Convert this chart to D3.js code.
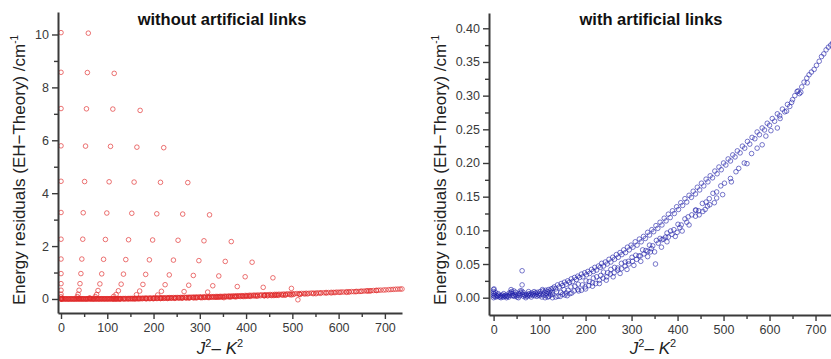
<!DOCTYPE html>
<html>
<head>
<meta charset="utf-8">
<script src="https://cdn.jsdelivr.net/npm/d3@7"></script>
<style>
  body { margin: 0; background: #fff; }
  svg { display: block; font-family: "Liberation Sans", Arial, sans-serif; }
</style>
</head>
<body>
<script>
// tick values
const xTicks = [0, 100, 200, 300, 400, 500, 600, 700];
const xMinor = [50, 150, 250, 350, 450, 550, 650, 750];
const leftYTicks = [0, 2, 4, 6, 8, 10];
const leftYMinor = [1, 3, 5, 7, 9];
const rightYTicks = [0, 0.05, 0.10, 0.15, 0.20, 0.25, 0.30, 0.35, 0.40];
const rightYMinor = [0.025, 0.075, 0.125, 0.175, 0.225, 0.275, 0.325, 0.375];

// "without links": K ladders sitting above the main band, [J2-K2, residual]
const ladderRows = [
  [[0, 10.07], [59, 10.05]],
  [[0, 8.57], [57, 8.56], [115, 8.53]],
  [[0, 7.20], [55, 7.19], [112, 7.18], [171, 7.13]],
  [[0, 5.79], [53, 5.78], [107, 5.77], [164, 5.74], [222, 5.72]],
  [[0, 4.45], [51, 4.44], [104, 4.43], [158, 4.42], [215, 4.41], [274, 4.40]],
  [[0, 3.27], [48, 3.26], [99, 3.25], [153, 3.24], [207, 3.22], [263, 3.21], [321, 3.18]],
  [[0, 2.26], [47, 2.26], [96, 2.25], [146, 2.24], [198, 2.23], [253, 2.22], [309, 2.20], [368, 2.17]],
  [[0, 1.51], [45, 1.51], [92, 1.50], [140, 1.49], [191, 1.48], [243, 1.47], [298, 1.45], [355, 1.42], [413, 1.39]],
  [[0, 0.96], [43, 0.96], [88, 0.95], [135, 0.94], [183, 0.93], [234, 0.91], [286, 0.89], [341, 0.87], [398, 0.84], [458, 0.80]],
  [[0, 0.58], [41, 0.58], [84, 0.57], [130, 0.56], [177, 0.55], [225, 0.54], [276, 0.52], [328, 0.50], [381, 0.47], [437, 0.44], [498, 0.40]],
  [[0, 0.33], [39, 0.33], [80, 0.32], [124, 0.31], [170, 0.30], [217, 0.29], [266, 0.28], [317, 0.26]],
  [[0, 0.18], [37, 0.18], [77, 0.17], [119, 0.17], [163, 0.16], [209, 0.15]],
  [[0, 0.08], [35, 0.09], [74, 0.09], [114, 0.10], [512, -0.03]]
];

// "with links" (also the main band of the left panel)
const nearZero = [
  [0, 0.000], [0, 0.003], [0, 0.006], [0, 0.009], [0, 0.012], [1, 0.013], [2, 0.002], [3, 0.005],
  [4, 0.008], [5, 0.001], [7, 0.003], [9, 0.002], [10, 0.006], [11, 0.004], [13, 0.001], [15, 0.003],
  [16, 0.000], [17, 0.002], [19, 0.004], [21, 0.001], [22, 0.006], [23, 0.003], [25, 0.002], [27, 0.004],
  [28, 0.000], [29, 0.002], [31, 0.003], [33, 0.001], [34, 0.007], [35, 0.004], [37, 0.007], [38, 0.012],
  [39, 0.009], [40, 0.003], [41, 0.006], [43, 0.003], [44, 0.010], [45, 0.002], [47, 0.005], [48, 0.008],
  [49, 0.003], [51, 0.001], [53, 0.004], [54, 0.000], [55, 0.006], [57, 0.003], [58, 0.010], [59, 0.007],
  [61, 0.010], [63, 0.005], [64, 0.008], [65, 0.002], [67, 0.004], [69, 0.003], [70, 0.000], [71, 0.005],
  [73, 0.002], [75, 0.004], [76, 0.009], [77, 0.006], [79, 0.003], [81, 0.005], [82, 0.001], [83, 0.007],
  [85, 0.004], [87, 0.006], [88, 0.009], [89, 0.003], [91, 0.007], [93, 0.005], [94, 0.002], [95, 0.008],
  [97, 0.004], [99, 0.006], [100, 0.003], [101, 0.009], [103, 0.005], [105, 0.001], [106, 0.012],
  [107, 0.010], [109, 0.004], [111, 0.008], [112, 0.000], [113, 0.011], [114, 0.003], [115, 0.006],
  [117, 0.009], [118, 0.001], [119, 0.012], [120, 0.002], [121, 0.007], [123, 0.010], [124, 0.004],
  [125, 0.013], [127, 0.008], [128, 0.000], [129, 0.014], [135, 0.001], [145, 0.002], [160, 0.003]
];
const outliers = [[62, 0.040], [62, 0.019], [352, 0.050]];
const upperBranch = [
  [132, 0.016], [135, 0.013], [139, 0.019], [143, 0.016], [147, 0.021], [150, 0.018], [154, 0.023],
  [158, 0.020], [161, 0.025], [165, 0.023], [169, 0.028], [172, 0.024], [176, 0.030], [180, 0.027],
  [183, 0.032], [187, 0.030], [191, 0.035], [194, 0.031], [198, 0.037], [202, 0.034], [205, 0.039],
  [209, 0.036], [213, 0.042], [217, 0.039], [220, 0.045], [224, 0.041], [228, 0.047], [232, 0.045],
  [235, 0.051], [239, 0.047], [243, 0.053], [247, 0.050], [251, 0.057], [255, 0.053], [259, 0.060],
  [263, 0.057], [267, 0.064], [271, 0.060], [275, 0.067], [279, 0.064], [283, 0.071], [287, 0.067],
  [291, 0.075], [295, 0.071], [299, 0.078], [303, 0.075], [308, 0.083], [312, 0.078], [317, 0.087],
  [321, 0.083], [326, 0.091], [330, 0.088], [335, 0.097], [339, 0.093], [344, 0.101], [348, 0.098],
  [353, 0.107], [357, 0.103], [362, 0.112], [366, 0.108], [371, 0.118], [375, 0.114], [380, 0.124],
  [384, 0.119], [389, 0.129], [393, 0.125], [398, 0.135], [402, 0.131], [407, 0.141], [411, 0.137],
  [416, 0.147], [420, 0.142], [425, 0.152], [430, 0.149], [434, 0.158], [439, 0.154], [443, 0.164],
  [448, 0.160], [452, 0.170], [457, 0.166], [462, 0.176], [466, 0.172], [471, 0.181], [476, 0.178],
  [481, 0.188], [486, 0.184], [490, 0.194], [495, 0.190], [500, 0.200], [505, 0.197], [510, 0.206],
  [515, 0.203], [520, 0.212], [525, 0.209], [530, 0.218], [536, 0.215], [541, 0.225], [546, 0.222],
  [552, 0.232], [557, 0.228], [562, 0.238], [568, 0.236], [573, 0.246], [578, 0.242], [584, 0.252],
  [589, 0.249], [595, 0.259], [600, 0.256], [606, 0.266], [611, 0.262], [617, 0.273], [622, 0.270],
  [628, 0.280], [633, 0.276], [639, 0.287], [644, 0.284], [650, 0.294], [655, 0.300], [660, 0.306],
  [665, 0.303], [670, 0.313], [675, 0.320], [681, 0.326], [686, 0.331], [691, 0.335], [697, 0.339],
  [702, 0.345], [708, 0.351], [713, 0.358], [718, 0.362], [723, 0.368], [728, 0.372], [733, 0.375],
  [737, 0.378]
];
const middleBranch = [
  [128, 0.005], [137, 0.009], [146, 0.008], [153, 0.012], [162, 0.011], [168, 0.016], [177, 0.017],
  [184, 0.020], [193, 0.019], [201, 0.025], [208, 0.024], [217, 0.029], [224, 0.031], [233, 0.033],
  [239, 0.038], [248, 0.037], [255, 0.042], [263, 0.045], [270, 0.044], [278, 0.051], [286, 0.053],
  [293, 0.054], [301, 0.060], [309, 0.063], [316, 0.062], [324, 0.071], [331, 0.070], [339, 0.078],
  [346, 0.077], [354, 0.085], [362, 0.088], [369, 0.087], [377, 0.096], [385, 0.099], [392, 0.101],
  [401, 0.109], [408, 0.108], [416, 0.117], [423, 0.120], [431, 0.123], [439, 0.130], [446, 0.129],
  [454, 0.140], [462, 0.142], [469, 0.147], [477, 0.155], [485, 0.157], [494, 0.166], [502, 0.170],
  [515, 0.177], [527, 0.187], [533, 0.192], [545, 0.200], [551, 0.199], [561, 0.214], [573, 0.222],
  [584, 0.227], [592, 0.240], [603, 0.248], [617, 0.252], [623, 0.266], [637, 0.277], [648, 0.290],
  [662, 0.307], [668, 0.305], [682, 0.319]
];
const scatterBand = [
  [150, 0.005], [158, 0.007], [166, 0.006], [175, 0.010], [183, 0.012], [191, 0.011], [199, 0.016],
  [207, 0.018], [215, 0.022], [222, 0.021], [230, 0.026], [238, 0.029], [246, 0.031], [254, 0.035],
  [262, 0.037], [270, 0.041], [278, 0.043], [286, 0.047], [294, 0.050], [302, 0.054], [311, 0.057],
  [319, 0.062], [327, 0.065], [335, 0.069], [343, 0.073], [358, 0.081], [366, 0.086], [374, 0.090],
  [388, 0.094], [405, 0.104], [420, 0.112], [447, 0.123], [465, 0.136], [480, 0.141]
];
const lowerBranch = [
  [140, 0.002], [155, 0.004], [170, 0.007], [185, 0.010], [200, 0.013], [215, 0.017], [230, 0.021],
  [245, 0.026], [260, 0.031], [275, 0.036], [290, 0.042], [305, 0.048], [320, 0.054], [335, 0.061],
  [341, 0.068], [350, 0.068], [365, 0.075], [377, 0.083], [380, 0.090], [395, 0.091], [399, 0.097],
  [410, 0.099], [425, 0.108], [439, 0.121], [440, 0.130], [455, 0.128], [460, 0.131], [470, 0.138],
  [485, 0.148], [498, 0.153], [517, 0.172]
];

const linked = [].concat(nearZero, outliers, upperBranch, middleBranch, scatterBand, lowerBranch);
const unlinked = [].concat(linked, ...ladderRows);

const W = 831, H = 359;
const svg = d3.select("body").append("svg").attr("width", W).attr("height", H);

function drawPanel(p) {
  let x = d3.scaleLinear().domain(p.xDom).range([p.left, p.right]);
  let y = d3.scaleLinear().domain(p.yDom).range([p.bottom, p.top]);
  let g = svg.append("g");

  // points first, axes on top
  g.append("g").selectAll("circle")
    .data(p.data)
    .enter().append("circle")
    .attr("cx", d => x(d[0]))
    .attr("cy", d => y(d[1]))
    .attr("r", 2.3)
    .attr("fill", "none")
    .attr("stroke", p.color)
    .attr("stroke-opacity", p.opacity)
    .attr("stroke-width", 1);

  g.append("g")
    .attr("transform", "translate(0," + p.bottom + ")")
    .call(d3.axisBottom(x).tickValues(xTicks).tickSize(6).tickSizeOuter(0).tickPadding(4));
  g.append("g")
    .attr("transform", "translate(0," + p.bottom + ")")
    .call(d3.axisBottom(x).tickValues(xMinor.filter(v => v < p.xDom[1])).tickSize(4).tickFormat(""))
    .select(".domain").remove();

  g.append("g")
    .attr("transform", "translate(" + p.left + ",0)")
    .call(d3.axisLeft(y).tickValues(p.yTicks).tickFormat(p.yFmt).tickSize(6).tickSizeOuter(0).tickPadding(3));
  g.append("g")
    .attr("transform", "translate(" + p.left + ",0)")
    .call(d3.axisLeft(y).tickValues(p.yMinor).tickSize(4).tickFormat(""))
    .select(".domain").remove();

  g.selectAll(".domain").attr("stroke", "#3a3a3a").attr("stroke-width", 2);
  g.selectAll(".tick line").attr("stroke", "#3a3a3a").attr("stroke-width", 1.4);
  g.selectAll(".tick text").attr("fill", "#3a3a3a").style("font-size", "12.5px")
    .style("font-family", "Liberation Sans, Arial, sans-serif");

  // title
  g.append("text")
    .attr("x", p.titleX).attr("y", 25)
    .attr("text-anchor", "middle")
    .style("font-weight", "bold").style("font-size", "16.5px")
    .attr("fill", "#111")
    .text(p.title);

  // y label
  let yl = g.append("text")
    .attr("transform", "translate(" + p.labelX + ",170) rotate(-90)")
    .attr("text-anchor", "middle")
    .style("font-size", "17px")
    .attr("fill", "#222");
  yl.append("tspan").text("Energy residuals (EH\u2212Theory) /cm");
  yl.append("tspan").attr("dy", -7).style("font-size", "10px").text("-1");

  // x label
  let xl = g.append("text")
    .attr("x", p.xLabelX).attr("y", 354)
    .attr("text-anchor", "middle")
    .style("font-size", "17px")
    .attr("fill", "#222");
  xl.append("tspan").style("font-style", "italic").text("J");
  xl.append("tspan").attr("dy", -7).style("font-size", "11px").text("2");
  xl.append("tspan").attr("dy", 7).text("\u2013 ");
  xl.append("tspan").style("font-style", "italic").text("K");
  xl.append("tspan").attr("dy", -7).style("font-size", "11px").text("2");
}

drawPanel({
  data: unlinked, color: "#e02a2a", opacity: 0.65,
  left: 58, right: 402, top: 12, bottom: 313,
  xDom: [-6.5, 737], yDom: [-0.53, 10.85],
  yTicks: leftYTicks, yMinor: leftYMinor, yFmt: d3.format("d"),
  title: "without artificial links", titleX: 222, labelX: 25, xLabelX: 220
});

drawPanel({
  data: linked, color: "#1f1fa8", opacity: 0.6,
  left: 489, right: 833, top: 13, bottom: 315,
  xDom: [-10, 738], yDom: [-0.0257, 0.4227],
  yTicks: rightYTicks, yMinor: rightYMinor, yFmt: d3.format(".2f"),
  title: "with artificial links", titleX: 651, labelX: 446, xLabelX: 653
});
</script>
</body>
</html>
